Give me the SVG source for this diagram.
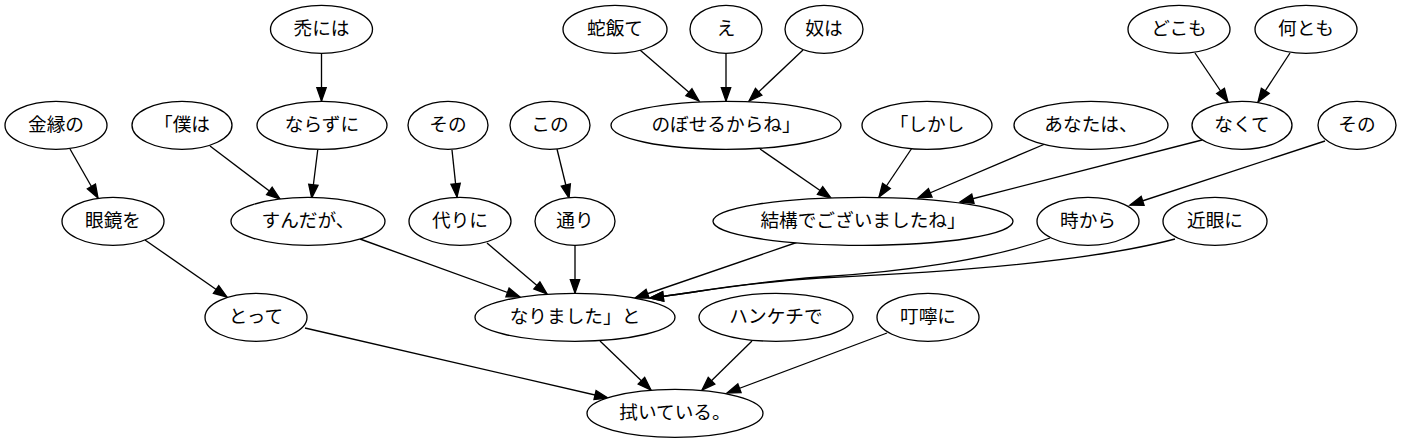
<svg xmlns="http://www.w3.org/2000/svg" width="1402" height="443" viewBox="0 0 1402 443">
<style>
.n ellipse{fill:#fff;stroke:#000;stroke-width:1.33}
.n text{font-family:"Noto Sans CJK JP","Noto Sans CJK SC",sans-serif;font-size:18.67px;text-anchor:middle;fill:#000}
.e path{fill:none;stroke:#000;stroke-width:1.33;marker-end:url(#ah)}
</style>
<defs>
<marker id="ah" markerWidth="15" markerHeight="11" refX="13.3" refY="4.67" orient="auto" markerUnits="userSpaceOnUse" overflow="visible">
<path d="M0,0 L13.3,4.67 L0,9.33 z" fill="#000" stroke="#000" stroke-width="1.33"/>
</marker>
</defs>
<rect width="1402" height="443" fill="#fff"/>
<g id="edges" class="e">
<path d="M321.5,53.3 L321.5,101"/>
<path d="M70,149 L98,198"/>
<path d="M210,146 L280,199"/>
<path d="M317.7,150 L311.7,198"/>
<path d="M452,150 L457,197"/>
<path d="M557,149 L569,198"/>
<path d="M640,50 L699,101"/>
<path d="M726,53.3 L726,101"/>
<path d="M803,50 L749,101"/>
<path d="M760,149 L831,198"/>
<path d="M912,148 L879,197"/>
<path d="M1045,144 L918,198"/>
<path d="M1202,140 L960,202"/>
<path d="M1195,53 L1228,102"/>
<path d="M1290,53 L1258,102"/>
<path d="M1325,141 L1130,205"/>
<path d="M145,240 L227,297"/>
<path d="M360,239 L520,297"/>
<path d="M487,243 L547,294"/>
<path d="M575,245.3 L575,293"/>
<path d="M798,242 L635,298"/>
<path d="M1050,238 C990,260 900,272 820,277 C740,283 700,292 650,298"/>
<path d="M1175,239 C1115,255 1000,270 820,278 C740,283 700,292 650,298"/>
<path d="M305,328 L608,398"/>
<path d="M600,341 L651,390"/>
<path d="M752,341 L702,390"/>
<path d="M887,333 L727,393"/>
</g>
<g id="n1" class="n"><ellipse cx="321.5" cy="29.3" rx="51" ry="24"/><text x="321.5" y="34.8">禿には</text></g>
<g id="n2" class="n"><ellipse cx="615" cy="29.3" rx="52" ry="24"/><text x="615" y="34.8">蛇飯て</text></g>
<g id="n3" class="n"><ellipse cx="726" cy="29.3" rx="36" ry="24"/><text x="726" y="34.8">え</text></g>
<g id="n4" class="n"><ellipse cx="824" cy="29.3" rx="39" ry="24"/><text x="824" y="34.8">奴は</text></g>
<g id="n5" class="n"><ellipse cx="1179" cy="29.3" rx="51" ry="24"/><text x="1179" y="34.8">どこも</text></g>
<g id="n6" class="n"><ellipse cx="1306" cy="29.3" rx="51" ry="24"/><text x="1306" y="34.8">何とも</text></g>
<g id="n7" class="n"><ellipse cx="56" cy="125.3" rx="51" ry="24"/><text x="56" y="130.8">金縁の</text></g>
<g id="n8" class="n"><ellipse cx="182" cy="125.3" rx="50" ry="24"/><text x="182" y="130.8">「僕は</text></g>
<g id="n9" class="n"><ellipse cx="322" cy="125.3" rx="65" ry="24"/><text x="322" y="130.8">ならずに</text></g>
<g id="n10" class="n"><ellipse cx="448" cy="125.3" rx="40" ry="24"/><text x="448" y="130.8">その</text></g>
<g id="n11" class="n"><ellipse cx="550" cy="125.3" rx="40" ry="24"/><text x="550" y="130.8">この</text></g>
<g id="n12" class="n"><ellipse cx="726" cy="125.3" rx="115" ry="24"/><text x="726" y="130.8">のぼせるからね」</text></g>
<g id="n13" class="n"><ellipse cx="927" cy="125.3" rx="65" ry="24"/><text x="927" y="130.8">「しかし</text></g>
<g id="n14" class="n"><ellipse cx="1091" cy="125.3" rx="77" ry="24"/><text x="1091" y="130.8">あなたは、</text></g>
<g id="n15" class="n"><ellipse cx="1242" cy="125.3" rx="50" ry="24"/><text x="1242" y="130.8">なくて</text></g>
<g id="n16" class="n"><ellipse cx="1357" cy="125.3" rx="39" ry="24"/><text x="1357" y="130.8">その</text></g>
<g id="n17" class="n"><ellipse cx="113" cy="221.3" rx="51" ry="24"/><text x="113" y="226.8">眼鏡を</text></g>
<g id="n18" class="n"><ellipse cx="308" cy="221.3" rx="77" ry="24"/><text x="308" y="226.8">すんだが、</text></g>
<g id="n19" class="n"><ellipse cx="460" cy="221.3" rx="51" ry="24"/><text x="460" y="226.8">代りに</text></g>
<g id="n20" class="n"><ellipse cx="575" cy="221.3" rx="40" ry="24"/><text x="575" y="226.8">通り</text></g>
<g id="n21" class="n"><ellipse cx="863" cy="221.3" rx="150" ry="24"/><text x="863" y="226.8">結構でございましたね」</text></g>
<g id="n22" class="n"><ellipse cx="1088" cy="221.3" rx="51" ry="24"/><text x="1088" y="226.8">時から</text></g>
<g id="n23" class="n"><ellipse cx="1215" cy="221.3" rx="52" ry="24"/><text x="1215" y="226.8">近眼に</text></g>
<g id="n24" class="n"><ellipse cx="256" cy="317.3" rx="51" ry="24"/><text x="256" y="322.8">とって</text></g>
<g id="n25" class="n"><ellipse cx="575" cy="317.3" rx="100" ry="24"/><text x="575" y="322.8">なりました」と</text></g>
<g id="n26" class="n"><ellipse cx="776" cy="317.3" rx="77" ry="24"/><text x="776" y="322.8">ハンケチで</text></g>
<g id="n27" class="n"><ellipse cx="928" cy="317.3" rx="51" ry="24"/><text x="928" y="322.8">叮嚀に</text></g>
<g id="n28" class="n"><ellipse cx="675" cy="413.3" rx="88" ry="24"/><text x="675" y="418.8">拭いている。</text></g>
</svg>
